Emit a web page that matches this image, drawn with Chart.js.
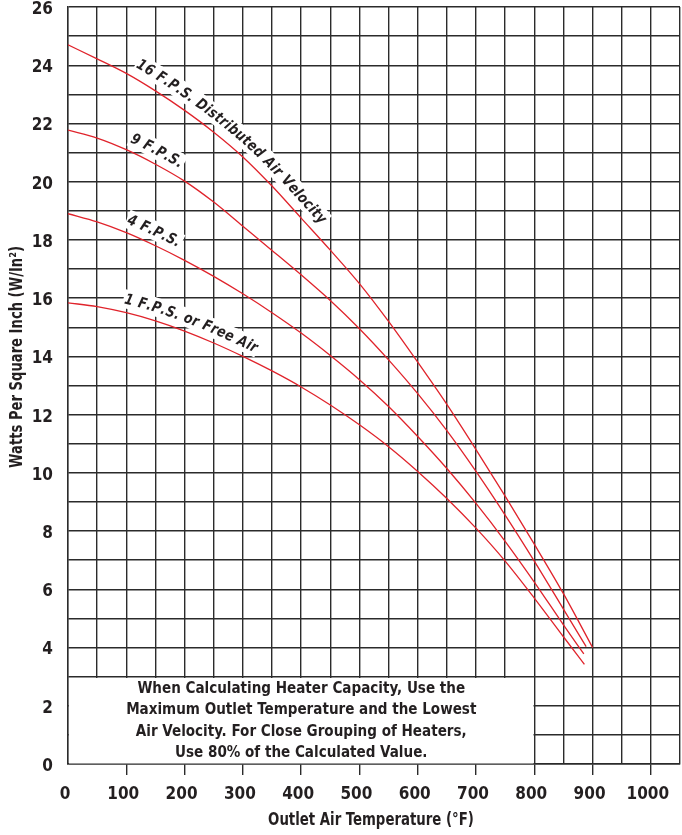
<!DOCTYPE html>
<html>
<head>
<meta charset="utf-8">
<script src="https://cdn.jsdelivr.net/npm/chart.js@4.4.0/dist/chart.umd.min.js"></script>
<style>
  html, body { margin: 0; padding: 0; background: #fff; }
  #wrap { width: 682px; height: 835px; }
</style>
</head>
<body>
<div id="wrap"><canvas id="heaterChart"></canvas></div>
<script>
// outlet air temperature (F) and watts per square inch
const temps = [0, 50, 100, 150, 200, 250, 300, 350, 400, 450, 500, 550, 600, 650, 700, 750, 800, 850];
const fps16 = [24.7, 24.22, 23.72, 23.12, 22.45, 21.7, 20.85, 19.85, 18.75, 17.65, 16.5, 15.2, 13.8, 12.35, 10.8, 9.2, 7.55, 5.85];
const fps9  = [21.77, 21.5, 21.1, 20.6, 20.02, 19.3, 18.47, 17.64, 16.8, 15.92, 14.95, 13.88, 12.72, 11.45, 10.05, 8.55, 6.97, 5.32];
const fps4  = [18.9, 18.62, 18.25, 17.8, 17.3, 16.75, 16.15, 15.5, 14.8, 14.03, 13.2, 12.28, 11.25, 10.15, 8.95, 7.65, 6.25, 4.78];
const fps1  = [15.84, 15.71, 15.5, 15.22, 14.87, 14.46, 14.0, 13.5, 12.95, 12.33, 11.65, 10.9, 10.05, 9.12, 8.1, 6.97, 5.7, 4.37];
// where each curve stops
const endTemps  = [900, 889, 885, 886];
const endValues = [4.0, 4.03, 3.78, 3.42];

const curveLabels = ['16 F.P.S. Distributed Air Velocity', '9 F.P.S.', '4 F.P.S.', '1 F.P.S. or Free Air'];
const labelStart = [106, 100, 95, 92]; // temperature where each label begins

const noteLines = [
  'When Calculating Heater Capacity, Use the',
  'Maximum Outlet Temperature and the Lowest',
  'Air Velocity. For Close Grouping of Heaters,',
  'Use 80% of the Calculated Value.'
];

const FONT = "'DejaVu Sans Condensed', 'Liberation Sans Narrow', sans-serif";
const INK = '#231f20';
const GRID = '#2b2b2b';
const RED = '#e0232b';

function points(vals, i) {
  const pts = temps.map((t, k) => ({ x: t, y: vals[k] }));
  pts.push({ x: endTemps[i], y: endValues[i] });
  return pts;
}

const allSeries = [fps16, fps9, fps4, fps1];

// sample the drawn bezier path of a dataset in pixels
function samplePath(meta) {
  const el = meta.data;
  const out = [];
  for (let i = 0; i < el.length - 1; i++) {
    const a = el[i], b = el[i + 1];
    const c1x = a.cp2x !== undefined ? a.cp2x : a.x, c1y = a.cp2y !== undefined ? a.cp2y : a.y;
    const c2x = b.cp1x !== undefined ? b.cp1x : b.x, c2y = b.cp1y !== undefined ? b.cp1y : b.y;
    for (let k = 0; k < 20; k++) {
      const t = k / 20, u = 1 - t;
      out.push({
        x: u*u*u*a.x + 3*u*u*t*c1x + 3*u*t*t*c2x + t*t*t*b.x,
        y: u*u*u*a.y + 3*u*u*t*c1y + 3*u*t*t*c2y + t*t*t*b.y
      });
    }
  }
  out.push({ x: el[el.length - 1].x, y: el[el.length - 1].y });
  return out;
}

// squeezed text, to get close to the condensed face of the original
function narrowText(ctx, text, x, y, sx) {
  ctx.save();
  ctx.translate(x, y);
  ctx.scale(sx, 1);
  ctx.fillText(text, 0, 0);
  ctx.restore();
}

const curveText = {
  id: 'curveText',
  beforeDatasetsDraw(chart) {
    // white note box in the lower left
    const ctx = chart.ctx, xs = chart.scales.x, ys = chart.scales.y;
    const x0 = Math.round(xs.getPixelForValue(0)) + 1;
    const x1 = Math.round(xs.getPixelForValue(800)) - 0.5;
    const y0 = Math.round(ys.getPixelForValue(3)) + 1;
    const y1 = Math.round(ys.getPixelForValue(0)) - 0.5;
    ctx.save();
    ctx.fillStyle = '#fff';
    ctx.fillRect(x0, y0, x1 - x0, y1 - y0);
    ctx.fillStyle = INK;
    ctx.font = 'bold 16px ' + FONT;
    ctx.textAlign = 'center';
    ctx.textBaseline = 'middle';
    noteLines.forEach((line, i) => {
      narrowText(ctx, line, (x0 + x1) / 2, y0 + 11 + i * 21.3, 0.94);
    });
    ctx.restore();
  },
  afterDatasetsDraw(chart) {
    const ctx = chart.ctx, xs = chart.scales.x;
    const fs = 15, sx = 0.92;
    const offsets = [10, 8.5, 8.5, 8.5];
    ctx.save();
    ctx.font = 'italic bold ' + fs + 'px ' + FONT;
    ctx.textAlign = 'center';
    ctx.textBaseline = 'alphabetic';
    curveLabels.forEach((label, di) => {
      const off = offsets[di];
      const path = samplePath(chart.getDatasetMeta(di));
      // offset path above the curve
      const offPath = [];
      for (let i = 0; i < path.length; i++) {
        const p = path[Math.max(0, i - 1)], q = path[Math.min(path.length - 1, i + 1)];
        const dx = q.x - p.x, dy = q.y - p.y, len = Math.hypot(dx, dy) || 1;
        offPath.push({ x: path[i].x + off * dy / len, y: path[i].y - off * dx / len, a: Math.atan2(dy, dx) });
      }
      const startX = xs.getPixelForValue(labelStart[di]);
      let idx = 0;
      while (idx < path.length - 1 && path[idx].x < startX) idx++;
      const cum = [0];
      for (let i = 1; i < offPath.length; i++) {
        cum.push(cum[i - 1] + Math.hypot(offPath[i].x - offPath[i - 1].x, offPath[i].y - offPath[i - 1].y));
      }
      function at(s) {
        let i = 1;
        while (i < cum.length - 1 && cum[i] < s) i++;
        const f = (s - cum[i - 1]) / ((cum[i] - cum[i - 1]) || 1);
        const a = offPath[i - 1], b = offPath[i];
        return { x: a.x + f * (b.x - a.x), y: a.y + f * (b.y - a.y), a: a.a + f * (b.a - a.a) };
      }
      const chars = [];
      let s = cum[idx];
      for (const ch of label) {
        const w = ctx.measureText(ch).width * sx;
        chars.push({ ch, w, p: at(s + w / 2) });
        s += w + 0.4;
      }
      // knockout band, then the letters
      ctx.fillStyle = '#fff';
      chars.forEach(c => {
        ctx.save();
        ctx.translate(c.p.x, c.p.y);
        ctx.rotate(c.p.a);
        ctx.fillRect(-c.w / 2 - 1.5, -fs * 0.95, c.w + 3, fs * 1.25);
        ctx.restore();
      });
      ctx.fillStyle = INK;
      chars.forEach(c => {
        ctx.save();
        ctx.translate(c.p.x, c.p.y);
        ctx.rotate(c.p.a);
        ctx.scale(sx, 1);
        ctx.fillText(c.ch, 0, 0);
        ctx.restore();
      });
    });
    ctx.restore();
  },
  afterDraw(chart) {
    const ctx = chart.ctx, area = chart.chartArea;
    ctx.save();
    ctx.font = 'bold 17px ' + FONT;
    ctx.fillStyle = INK;
    ctx.textAlign = 'center';
    ctx.textBaseline = 'middle';
    // x axis title
    narrowText(ctx, 'Outlet Air Temperature (\u00B0F)', (area.left + area.right) / 2 - 3, 821, 0.87);
    // y axis title
    ctx.translate(18, 357);
    ctx.rotate(-Math.PI / 2);
    narrowText(ctx, 'Watts Per Square Inch (W/In\u00B2)', 0, 0, 0.86);
    ctx.restore();
  }
};

const ctx = document.getElementById('heaterChart').getContext('2d');
const heaterChart = new Chart(ctx, {
  type: 'line',
  data: {
    datasets: allSeries.map((vals, i) => ({
      label: curveLabels[i],
      data: points(vals, i),
      borderColor: RED,
      borderWidth: 1.3,
      pointRadius: 0,
      fill: false,
      cubicInterpolationMode: 'monotone'
    }))
  },
  options: {
    responsive: true,
    maintainAspectRatio: false,
    animation: false,
    layout: { padding: { top: 7, right: 2, left: 0, bottom: 0 } },
    plugins: { legend: { display: false }, tooltip: { enabled: false } },
    scales: {
      x: {
        type: 'linear', min: 0, max: 1050,
        afterFit(scale) {
          scale.height = 71;
          scale.paddingLeft = 0;
          scale.paddingRight = 0;
        },
        border: { color: GRID, width: 1.4 },
        grid: {
          color: GRID,
          lineWidth: 1.4,
          drawTicks: true,
          tickLength: 11,
          tickColor: c => (c.tick && c.tick.value % 100 === 0 && c.tick.value > 0 && c.tick.value < 1050) ? GRID : 'rgba(0,0,0,0)'
        },
        ticks: {
          stepSize: 50, autoSkip: false, maxRotation: 0, padding: 9, labelOffset: -3,
          color: INK,
          font: { family: FONT, size: 17, weight: 'bold' },
          callback: v => (v % 100 === 0 && v <= 1000) ? v : ''
        }
      },
      y: {
        min: 0, max: 26,
        afterFit(scale) { scale.width = 68; },
        border: { color: GRID, width: 1.4 },
        grid: { color: GRID, lineWidth: 1.4, drawTicks: true, tickLength: 15, tickColor: 'rgba(0,0,0,0)' },
        ticks: {
          stepSize: 1, autoSkip: false, padding: 0, labelOffset: 2.5,
          color: INK,
          font: { family: FONT, size: 17, weight: 'bold', lineHeight: 0.7 },
          callback: v => (v % 2 === 0) ? v : ''
        }
      }
    }
  },
  plugins: [curveText]
});
</script>
</body>
</html>
